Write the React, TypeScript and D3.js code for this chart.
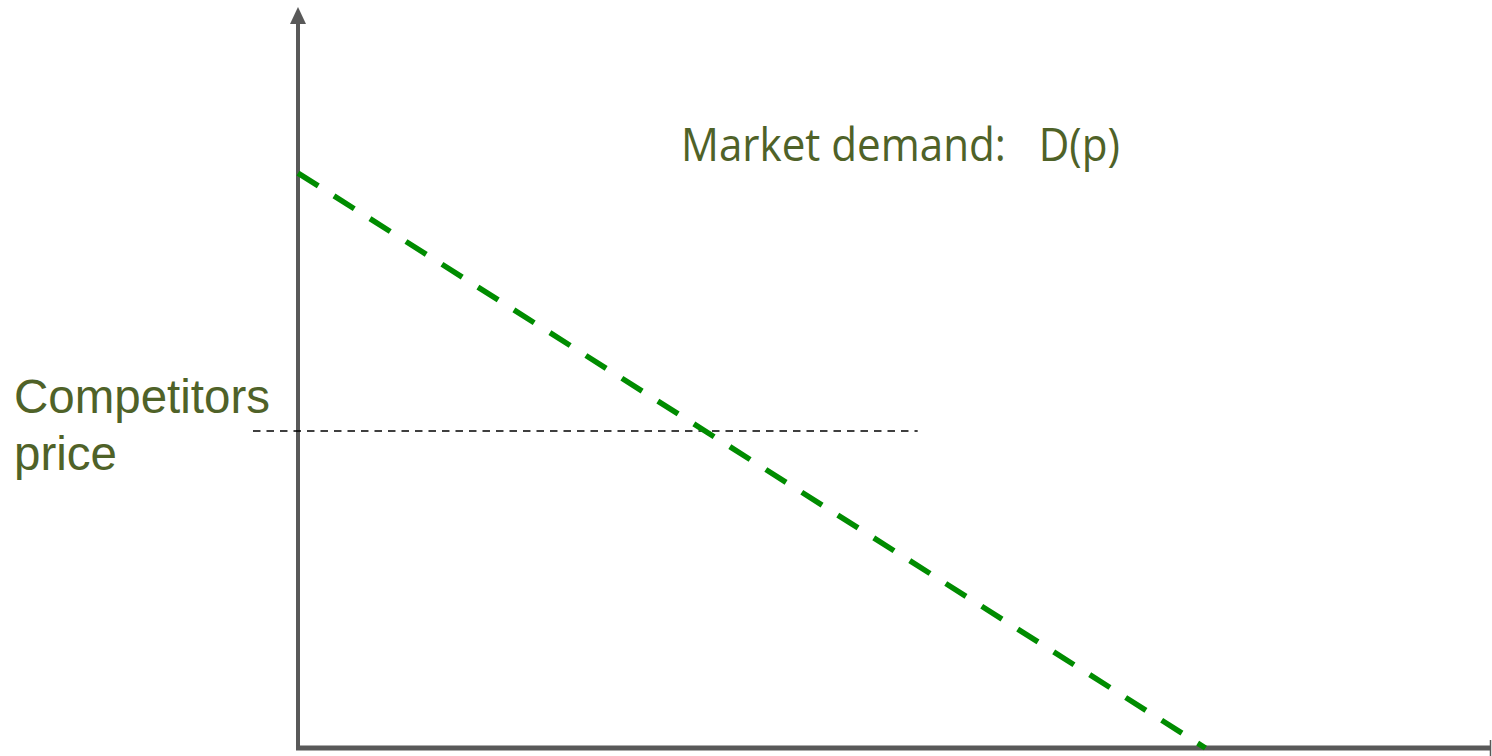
import React from "react";
import * as d3 from "d3";

const W = 1492;
const H = 756;

// Data (in chart units: quantity 0..100, price 0..100)
const demandQuantity = [0, 76.0];
const demandPrice = [77.9, 0];
const competitorPrice = [42.95];
const competitorRange = [-3.77, 51.9];
const labels = ["Competitors", "price"];
const demandLabel = "Market demand:   D(p)";

export default function App() {
  const x = d3.scaleLinear().domain([0, 100]).range([298, 1492]);
  const y = d3.scaleLinear().domain([0, 100]).range([748, 10]);

  const line = d3
    .line<[number, number]>()
    .x((d) => x(d[0]))
    .y((d) => y(d[1]));

  const demandPts: [number, number][] = demandQuantity.map((q, i) => [q, demandPrice[i]]);
  const compPts: [number, number][] = competitorRange.map((q) => [q, competitorPrice[0]]);

  const axisColor = "#595959";
  const textColor = "#4f6228";

  return (
    <svg
      width={W}
      height={H}
      style={{ position: "absolute", left: 0, top: 0, background: "#fff" }}
    >
      {/* y axis */}
      <line x1={x(0)} x2={x(0)} y1={750} y2={20} stroke={axisColor} strokeWidth={4} />
      <polygon
        points={`${x(0)},7 ${x(0) - 8},24 ${x(0) + 8},24`}
        fill={axisColor}
      />
      {/* x axis */}
      <line x1={x(0) - 2} x2={1490} y1={y(0)} y2={y(0)} stroke={axisColor} strokeWidth={5} />
      <line x1={1490.5} x2={1490.5} y1={y(0) - 8} y2={y(0) + 8} stroke={axisColor} strokeWidth={1.5} />

      {/* competitor price dashed line */}
      <path
        d={line(compPts) || ""}
        stroke="#000"
        strokeWidth={1.6}
        strokeDasharray="7.5 6"
        fill="none"
      />

      {/* demand line */}
      <path
        d={line(demandPts) || ""}
        stroke="#008c00"
        strokeWidth={5.5}
        strokeDasharray="24 18.6"
        fill="none"
      />

      {/* labels */}
      <text
        x={14}
        y={413}
        fill={textColor}
        style={{ fontFamily: "'Liberation Sans', Arial, sans-serif", fontSize: 47.5 }}
      >
        {labels[0]}
      </text>
      <text
        x={14}
        y={470}
        fill={textColor}
        style={{ fontFamily: "'Liberation Sans', Arial, sans-serif", fontSize: 47.5 }}
      >
        {labels[1]}
      </text>
      <text
        x={681}
        y={161}
        fill={textColor}
        textLength={439}
        lengthAdjust="spacingAndGlyphs"
        style={{ fontFamily: "'Open Sans', sans-serif", fontSize: 45, whiteSpace: "pre" }}
        xmlSpace="preserve"
      >
        {demandLabel}
      </text>
    </svg>
  );
}
